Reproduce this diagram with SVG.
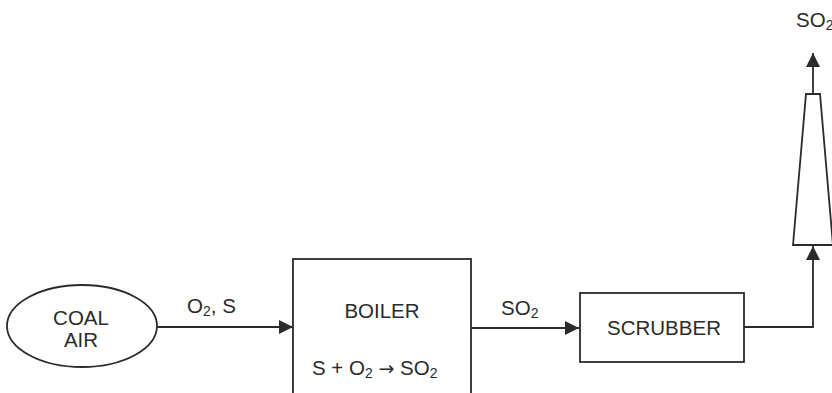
<svg xmlns="http://www.w3.org/2000/svg" width="832" height="393" viewBox="0 0 832 393">
<style>
.s{fill:none;stroke:#2b2b2b;stroke-width:1.8}
.n{fill:#fff;stroke:#2b2b2b;stroke-width:1.8}
text{font-family:"Liberation Sans",Arial,sans-serif;fill:#2b2b2b;font-size:20.5px}
.sub{font-size:14px}
.arr{font-family:"DejaVu Sans",sans-serif;font-size:19px}
</style>
<defs>
<marker id="ah" viewBox="0 0 10 10" refX="10" refY="5" markerWidth="14" markerHeight="14" markerUnits="userSpaceOnUse" orient="auto">
<path d="M0,0 L10,5 L0,10 z" fill="#2b2b2b"/>
</marker>
</defs>
<rect width="832" height="393" fill="#fff"/>
<g id="connectors">
<line class="s" x1="157" y1="327" x2="293" y2="327" marker-end="url(#ah)"/>
<line class="s" x1="471" y1="328" x2="579" y2="328" marker-end="url(#ah)"/>
<polyline class="s" points="744,327 813,327 813,246" marker-end="url(#ah)"/>
<line class="s" x1="813" y1="94" x2="813" y2="53" marker-end="url(#ah)"/>
<text x="187" y="313">O<tspan class="sub" dy="3">2</tspan><tspan dy="-3">, S</tspan></text>
<text x="501" y="315">SO<tspan class="sub" dy="3">2</tspan></text>
<text x="796" y="27">SO<tspan class="sub" dy="3">2</tspan></text>
</g>
<g id="coal-air">
<ellipse class="n" cx="82" cy="326" rx="75" ry="41"/>
<text x="81" y="325" text-anchor="middle">COAL</text>
<text x="81" y="347" text-anchor="middle">AIR</text>
</g>
<g id="boiler">
<rect class="n" x="293" y="259" width="178" height="140"/>
<text x="382" y="318" text-anchor="middle">BOILER</text>
<text x="312" y="375">S + O<tspan class="sub" dy="3">2</tspan><tspan dy="-3"> </tspan><tspan class="arr">→</tspan><tspan> SO</tspan><tspan class="sub" dy="3">2</tspan></text>
</g>
<g id="scrubber">
<rect class="n" x="580" y="293" width="164" height="69"/>
<text x="664" y="335" text-anchor="middle">SCRUBBER</text>
</g>
<g id="chimney">
<polygon class="n" points="806,94 820,94 833,245 793,245"/>
</g>
</svg>
